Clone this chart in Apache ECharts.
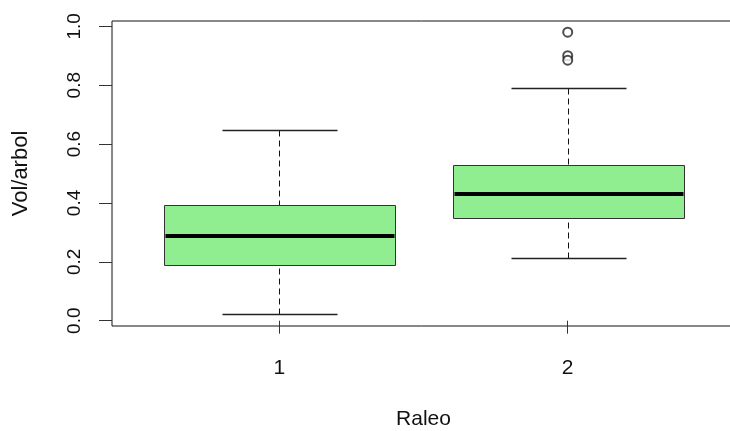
<!DOCTYPE html>
<html>
<head>
<meta charset="utf-8">
<script src="https://cdn.jsdelivr.net/npm/echarts@6/dist/echarts.min.js"></script>
<style>
  html, body { margin: 0; padding: 0; background: #fff; }
  #chart { width: 730px; height: 431px; }
</style>
</head>
<body>
<div id="chart"></div>
<script>
// Volume per tree by thinning treatment (Raleo)
const groups = ['1', '2'];
const whiskerLow = [0.022, 0.214];
const q1 = [0.189, 0.350];
const median = [0.288, 0.430];
const q3 = [0.392, 0.528];
const whiskerHigh = [0.647, 0.789];
const outlierGroup = [2, 2, 2];
const outlierValue = [0.98, 0.90, 0.885];
const yTicks = [0, 0.2, 0.4, 0.6, 0.8, 1.0];

const boxData = groups.map((g, i) => [i + 1, whiskerLow[i], q1[i], median[i], q3[i], whiskerHigh[i]]);
const outlierData = outlierGroup.map((g, i) => [g, outlierValue[i]]);

const fontFamily = '"Liberation Sans", Arial, sans-serif';

// snap to pixel centres so 1px strokes stay crisp
const px = v => Math.round(v) + 0.5;

function renderBox(params, api) {
  const x = api.value(0);
  const pLo = api.coord([x, api.value(1)]);
  const pQ1 = api.coord([x, api.value(2)]);
  const pMed = api.coord([x, api.value(3)]);
  const pQ3 = api.coord([x, api.value(4)]);
  const pHi = api.coord([x, api.value(5)]);
  const w = api.size([0.8, 0])[0];
  const cx = px(pLo[0]);
  const yLo = px(pLo[1]), yQ1 = px(pQ1[1]), yQ3 = px(pQ3[1]), yHi = px(pHi[1]);
  const left = px(cx - w / 2), right = px(cx + w / 2);
  const dash = { stroke: '#111', lineWidth: 1, lineDash: [6, 4] };
  const solid = { stroke: '#222', lineWidth: 1.3 };
  return {
    type: 'group',
    children: [
      { type: 'line', shape: { x1: cx, y1: yLo, x2: cx, y2: yQ1 }, style: dash },
      { type: 'line', shape: { x1: cx, y1: yHi, x2: cx, y2: yQ3 }, style: dash },
      { type: 'line', shape: { x1: px(cx - w / 4), y1: yLo, x2: px(cx + w / 4), y2: yLo }, style: solid },
      { type: 'line', shape: { x1: px(cx - w / 4), y1: yHi, x2: px(cx + w / 4), y2: yHi }, style: solid },
      { type: 'rect', shape: { x: left, y: yQ3, width: right - left, height: yQ1 - yQ3 },
        style: { fill: '#90EE90', stroke: '#333', lineWidth: 1 } },
      { type: 'line', shape: { x1: left + 1, y1: Math.round(pMed[1]), x2: right - 1, y2: Math.round(pMed[1]) },
        style: { stroke: '#000', lineWidth: 4 } }
    ]
  };
}

const chart = echarts.init(document.getElementById('chart'), null, { renderer: 'canvas' });
chart.setOption({
  animation: false,
  backgroundColor: '#fff',
  grid: {
    left: 112, top: 21, width: 623, height: 305,
    containLabel: false, outerBoundsMode: 'none',
    show: true, borderColor: '#111', borderWidth: 1, backgroundColor: 'transparent'
  },
  xAxis: {
    type: 'value', min: 0.42, max: 2.58,
    name: 'Raleo', nameLocation: 'middle', nameGap: 83,
    nameTextStyle: { fontFamily, fontSize: 21, color: '#111' },
    axisLine: { show: false },
    splitLine: { show: false },
    axisTick: { show: true, length: 13, customValues: [1, 2], lineStyle: { color: '#333', width: 1 } },
    axisLabel: {
      customValues: [1, 2], margin: 32, fontFamily, fontSize: 21, color: '#111',
      formatter: v => groups[Math.round(v) - 1]
    }
  },
  yAxis: {
    type: 'value', min: -0.018, max: 1.018,
    name: 'Vol/arbol', nameLocation: 'middle', nameGap: 80,
    nameTextStyle: { fontFamily, fontSize: 22, color: '#111' },
    axisLine: { show: false },
    splitLine: { show: false },
    axisTick: { show: true, length: 13, customValues: yTicks, lineStyle: { color: '#333', width: 1 } },
    axisLabel: {
      customValues: yTicks, rotate: 90, margin: 28, fontFamily, fontSize: 19, color: '#111',
      formatter: v => v.toFixed(1)
    }
  },
  series: [
    {
      type: 'custom',
      renderItem: renderBox,
      data: boxData,
      encode: { x: 0, y: [1, 2, 3, 4, 5] },
      clip: false
    },
    {
      type: 'scatter',
      data: outlierData,
      symbol: 'emptyCircle',
      symbolSize: 9,
      itemStyle: { color: '#222', borderColor: '#222', borderWidth: 1 }
    }
  ]
});
</script>
</body>
</html>
